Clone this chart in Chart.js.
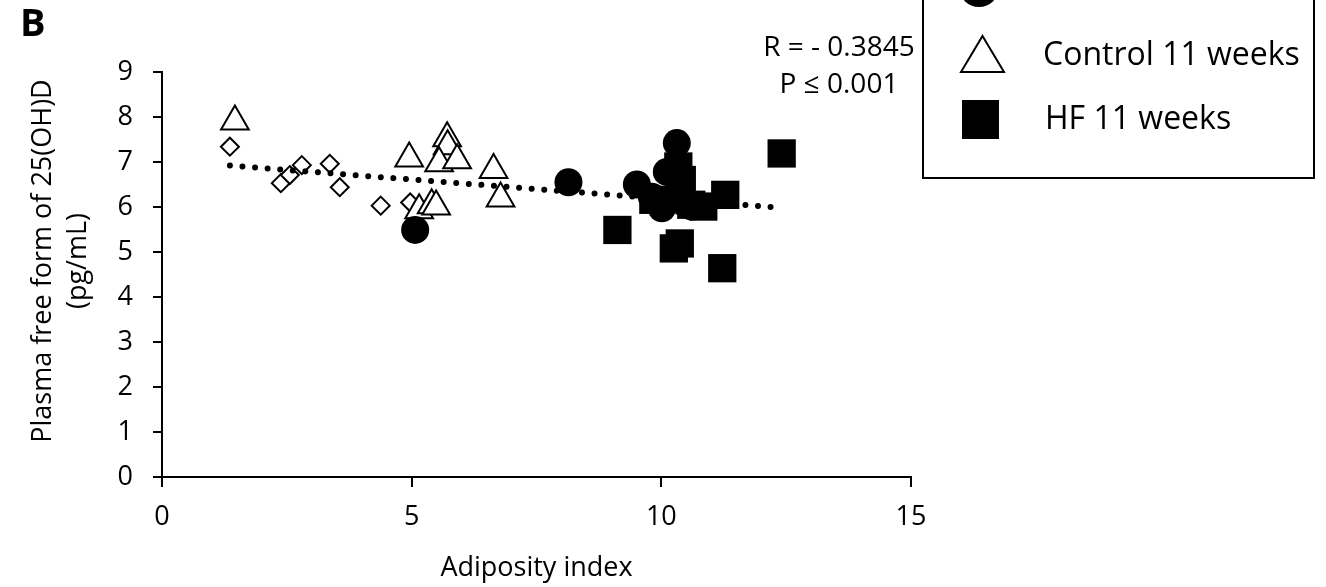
<!DOCTYPE html>
<html>
<head>
<meta charset="utf-8">
<script src="https://cdn.jsdelivr.net/npm/chart.js@4.4.1/dist/chart.umd.min.js"></script>
<style>
  html, body { margin: 0; padding: 0; background: #fff; }
  #wrap { width: 1326px; height: 587px; position: relative; }
</style>
</head>
<body>
<div id="wrap"><canvas id="chart" width="1326" height="587"></canvas></div>
<script>
// Control 3 weeks (open diamonds)
const control3 = [
  [1.36, 7.34], [2.38, 6.53], [2.56, 6.71], [2.80, 6.93], [3.36, 6.96],
  [3.56, 6.44], [4.38, 6.03], [4.97, 6.10]
];
// HF 3 weeks (filled circles)
const hf3 = [
  [5.07, 5.49], [8.14, 6.55], [9.51, 6.50], [10.31, 7.42], [10.11, 6.78],
  [10.01, 5.97], [10.61, 6.01], [10.34, 6.38], [9.81, 6.23], [10.45, 6.10]
];
// Control 11 weeks (open triangles)
const control11 = [
  [1.46, 7.90], [4.95, 7.08], [5.71, 7.53], [5.72, 7.35], [5.55, 6.97],
  [5.91, 7.04], [6.64, 6.82], [6.78, 6.19], [5.15, 5.93], [5.40, 6.04],
  [5.49, 6.01]
];
// HF 11 weeks (filled squares)
const hf11 = [
  [9.12, 5.49], [10.37, 5.19], [10.25, 5.08], [11.22, 4.64], [12.41, 7.19],
  [11.28, 6.27], [10.84, 6.01], [10.34, 6.90], [10.41, 6.60], [9.84, 6.16],
  [10.60, 6.05]
];
// dotted trend line ends
const trend = [[1.36, 6.92], [12.30, 5.99]];

const xTicks = [0, 5, 10, 15];
const yTicks = [0, 1, 2, 3, 4, 5, 6, 7, 8, 9];
const legendLabels = ['HF 3 weeks', 'Control 11 weeks', 'HF 11 weeks'];
const statLines = ['R = - 0.3845', 'P \u2264 0.001'];
const yTitle = ['Plasma free form of 25(OH)D', '(pg/mL)'];

const FONT = "'Open Sans', sans-serif";
const pts = arr => arr.map(p => ({ x: p[0], y: p[1] }));

const extras = {
  id: 'extras',
  afterDraw(chart) {
    const ctx = chart.ctx;
    ctx.save();
    ctx.fillStyle = '#000';
    ctx.strokeStyle = '#000';
    // panel letter
    ctx.font = "bold 38px " + FONT;
    ctx.textBaseline = 'alphabetic';
    ctx.textAlign = 'left';
    ctx.fillText('B', 20, 36);
    // y axis title, two lines
    ctx.save();
    ctx.translate(0, 261);
    ctx.rotate(-Math.PI / 2);
    ctx.font = "27px " + FONT;
    ctx.textAlign = 'center';
    ctx.textBaseline = 'middle';
    ctx.fillText(yTitle[0], 0, 43);
    ctx.fillText(yTitle[1], 0, 78);
    ctx.restore();
    // stats
    ctx.font = "28px " + FONT;
    ctx.textAlign = 'center';
    ctx.fillText(statLines[0], 839, 56);
    ctx.fillText(statLines[1], 839, 93);
    // legend box (top part is cut off in the figure)
    ctx.lineWidth = 2;
    ctx.strokeRect(923, -60, 391, 238);
    // circle row
    ctx.beginPath();
    ctx.arc(979, -13, 20, 0, Math.PI * 2);
    ctx.fill();
    // triangle row
    ctx.beginPath();
    ctx.moveTo(982.5, 36);
    ctx.lineTo(1004, 72);
    ctx.lineTo(961, 72);
    ctx.closePath();
    ctx.fillStyle = '#fff';
    ctx.fill();
    ctx.stroke();
    ctx.fillStyle = '#000';
    // square row
    ctx.fillRect(962, 100, 37, 39);
    ctx.font = "32px " + FONT;
    ctx.textAlign = 'left';
    ctx.fillText(legendLabels[0], 1043, 0);
    ctx.fillText(legendLabels[1], 1043, 65);
    ctx.fillText(legendLabels[2], 1045, 129);
    ctx.restore();
  }
};

new Chart(document.getElementById('chart'), {
  type: 'scatter',
  data: {
    datasets: [
      {
        label: 'HF 11 weeks', data: pts(hf11), order: 1,
        pointStyle: 'rect', pointRadius: 20, backgroundColor: '#000',
        borderColor: '#000', borderWidth: 0
      },
      {
        label: 'HF 3 weeks', data: pts(hf3), order: 2,
        pointStyle: 'circle', pointRadius: 14, backgroundColor: '#000',
        borderColor: '#000', borderWidth: 0
      },
      {
        label: 'Control 11 weeks', data: pts(control11), order: 3,
        pointStyle: 'triangle', pointRadius: 16, backgroundColor: '#fff',
        borderColor: '#000', borderWidth: 2
      },
      {
        type: 'line', label: 'trend', data: pts(trend), order: 4,
        showLine: true, pointRadius: 0, borderColor: '#000', borderWidth: 6,
        borderDash: [0.01, 12.6], borderCapStyle: 'round', fill: false
      },
      {
        label: 'Control 3 weeks', data: pts(control3), order: 5,
        pointStyle: 'rectRot', pointRadius: 9, backgroundColor: '#fff',
        borderColor: '#000', borderWidth: 2
      }
    ]
  },
  options: {
    responsive: false,
    animation: false,
    events: [],
    layout: { padding: { left: 0, top: 72, right: 415, bottom: 0 } },
    plugins: { legend: { display: false }, tooltip: { enabled: false } },
    scales: {
      x: {
        type: 'linear', min: 0, max: 15,
        afterFit: s => { s.height = 110; },
        afterBuildTicks: s => { s.ticks = xTicks.map(v => ({ value: v })); },
        border: { display: true, color: '#000', width: 2 },
        grid: { display: true, drawOnChartArea: false, drawTicks: true, tickLength: 10, color: '#000', lineWidth: 2 },
        ticks: { color: '#000', font: { family: FONT, size: 27 }, padding: 14 },
        title: { display: true, text: 'Adiposity index', color: '#000', font: { family: FONT, size: 27 }, padding: { top: 0, bottom: 2 } }
      },
      y: {
        type: 'linear', min: 0, max: 9,
        afterFit: s => { s.width = 162; },
        afterBuildTicks: s => { s.ticks = yTicks.map(v => ({ value: v })); },
        border: { display: true, color: '#000', width: 2 },
        grid: { display: true, drawOnChartArea: false, drawTicks: true, tickLength: 9, color: '#000', lineWidth: 2 },
        ticks: { color: '#000', font: { family: FONT, size: 27 }, padding: 20 },
        title: { display: false }
      }
    }
  },
  plugins: [extras]
});
</script>
</body>
</html>
